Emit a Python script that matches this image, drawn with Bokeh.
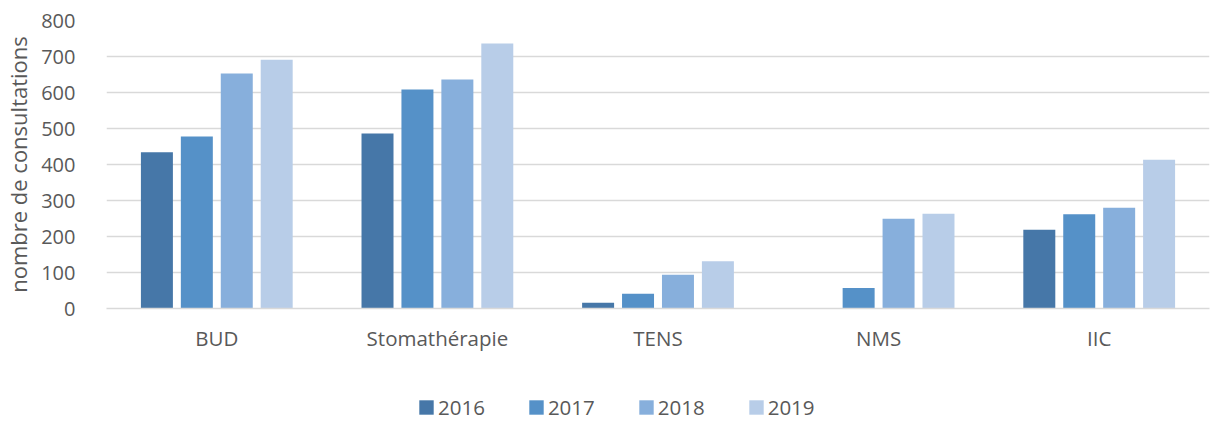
from bokeh.plotting import figure
from bokeh.layouts import column
from bokeh.models import FactorRange, Range1d, Legend, LegendItem, ColumnDataSource, SingleIntervalTicker
from bokeh.transform import dodge
from bokeh.embed import file_html
from bokeh.resources import INLINE

categories = ["BUD", "Stomathérapie", "TENS", "NMS", "IIC"]
years = ["2016", "2017", "2018", "2019"]
v2016 = [434, 486, 16, 0, 219]
v2017 = [478, 608, 41, 57, 262]
v2018 = [653, 636, 94, 249, 280]
v2019 = [691, 736, 131, 263, 413]
colors = ["#4677A8", "#5591C8", "#87AFDC", "#B8CDE8"]

FONT = "Open Sans"
TXT = "#595959"

src = ColumnDataSource(dict(cat=categories, y2016=v2016, y2017=v2017, y2018=v2018, y2019=v2019))

p = figure(width=1210, height=370, output_backend="svg", toolbar_location=None,
           x_range=FactorRange(*categories, range_padding=0),
           y_range=Range1d(0, 800),
           min_border_left=104, min_border_right=1, min_border_top=20, min_border_bottom=62)
p.outline_line_color = None

offsets = [-0.2715, -0.0905, 0.0905, 0.2715]
for yr, off, col in zip(years, offsets, colors):
    p.vbar(x=dodge("cat", off, range=p.x_range), top="y" + yr, width=0.145,
           source=src, fill_color=col, line_color=None)

p.yaxis.ticker = SingleIntervalTicker(interval=100)
p.ygrid.grid_line_color = "#D9D9D9"
p.ygrid.grid_line_width = 1.3
p.xgrid.grid_line_color = None

for ax in [p.xaxis[0], p.yaxis[0]]:
    ax.major_tick_line_color = None
    ax.minor_tick_line_color = None
    ax.major_label_text_font = FONT
    ax.major_label_text_color = TXT
p.xaxis.major_label_text_font_size = "20.5px"
p.yaxis.major_label_text_font_size = "20px"
p.yaxis.axis_line_color = None
p.xaxis.axis_line_color = "#D9D9D9"
p.xaxis.axis_line_width = 1.5
p.xaxis.major_label_standoff = 9
p.yaxis.major_label_standoff = 25
p.yaxis.axis_label = "nombre de consultations"
p.yaxis.axis_label_text_font = FONT
p.yaxis.axis_label_text_font_size = "22px"
p.yaxis.axis_label_text_font_style = "normal"
p.yaxis.axis_label_text_color = TXT
p.yaxis.axis_label_standoff = 5

# legend strip below the chart
lg = figure(width=1210, height=51, output_backend="svg", toolbar_location=None,
            x_range=Range1d(0, 1), y_range=Range1d(0, 1),
            min_border_left=0, min_border_right=0, min_border_top=0, min_border_bottom=0)
lg.outline_line_color = None
lg.axis.visible = False
lg.grid.visible = False
items = []
for yr, col in zip(years, colors):
    # carrier glyph lies outside the visible range; only its legend swatch shows
    r = lg.vbar(x=[-5], top=[-5], bottom=[-6], width=0.1, fill_color=col, line_color=None)
    items.append(LegendItem(label=yr, renderers=[r]))
legend = Legend(items=items, orientation="horizontal", location=(311, 0),
                glyph_width=18, glyph_height=18, label_standoff=3, spacing=42,
                padding=0, margin=0, border_line_color=None, background_fill_alpha=0,
                label_text_font=FONT, label_text_font_size="20.5px", label_text_color=TXT)
lg.add_layout(legend, "center")

layout = column(p, lg, spacing=0)
open("out.html", "w").write(file_html(layout, INLINE))
